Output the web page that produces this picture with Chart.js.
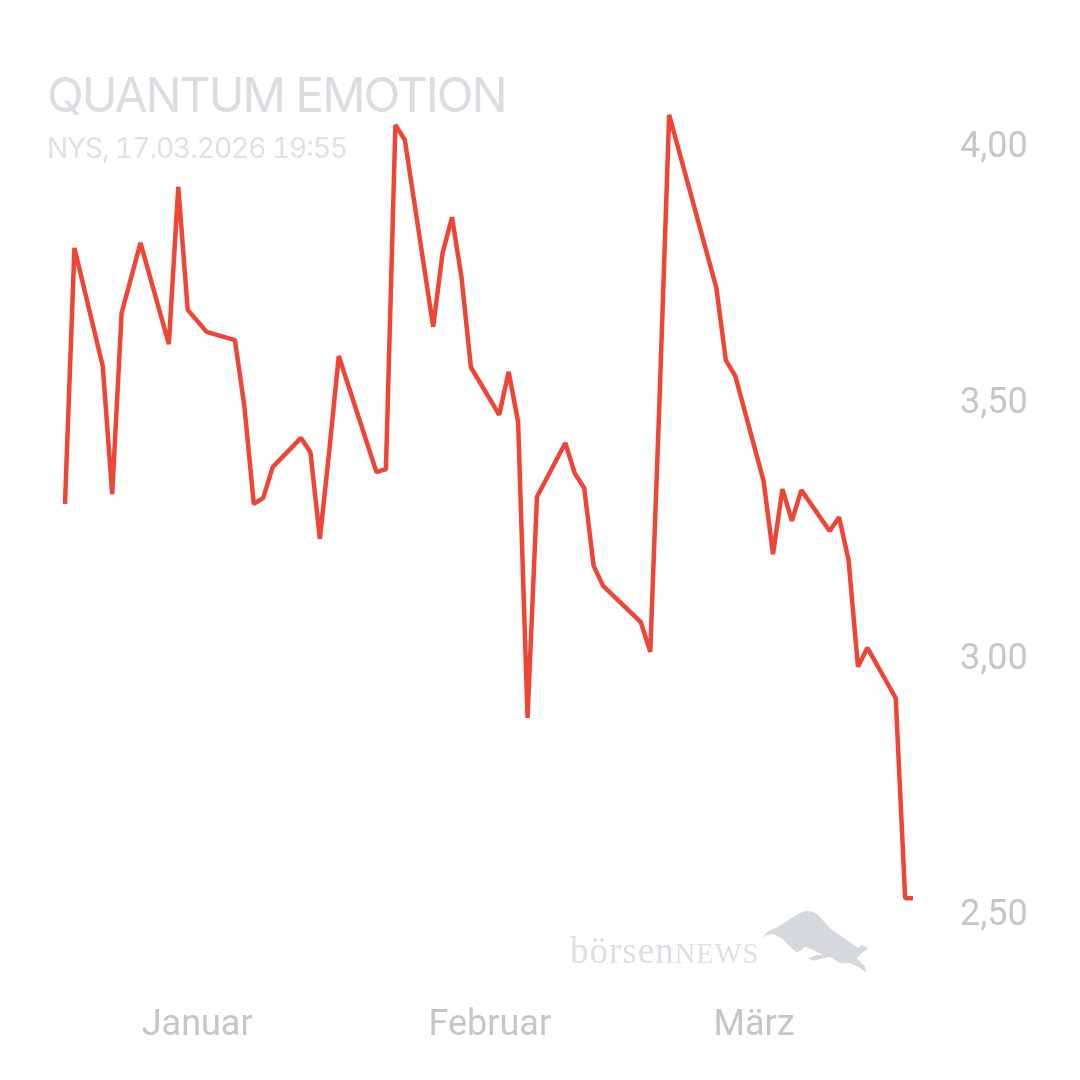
<!DOCTYPE html>
<html lang="de">
<head>
<meta charset="utf-8">
<title>Quantum Emotion</title>
<script src="https://cdn.jsdelivr.net/npm/chart.js@4"></script>
<style>
    html, body { margin: 0; padding: 0; background: #fff; }
    #wrap { position: relative; width: 1080px; height: 1080px; overflow: hidden; }
    #my-chart { position: absolute; left: 0; top: 0; }
    .label { position: absolute; white-space: nowrap; line-height: 1; }
    #name { left: 47px; top: 65px; font: 400 48px Inter, sans-serif; color: #dadde1; letter-spacing: -2px; }
    #stamp { left: 47px; top: 131px; font: 400 28px Inter, sans-serif; color: #dfe2e5; letter-spacing: -1px; font-feature-settings: 'calt', 'case', 'tnum'; }
    #brand { left: 570px; top: 929px; font: 400 37px "Liberation Serif", serif; color: #dcdfe3; letter-spacing: 1px; }
    #brand span { font-size: 28.5px; }
    #bull { position: absolute; left: 0; top: 0; }
</style>
</head>
<body>
<div id="wrap">
    <canvas id="my-chart" width="1080" height="1080"></canvas>
    <div class="label" id="name">QUANTUM EMOTION</div>
    <div class="label" id="stamp">NYS, 17.03.2026 19:55</div>
    <div class="label" id="brand">börsen<span>NEWS</span></div>
    <svg id="bull" width="1080" height="1080">
        <path fill="#d5d9dc" d="M761.7 938.3 L768.3 931 L778.3 926.7 L793.3 916.7 Q800 912 806.7 910.7 Q813 911 818.3 915 L830 928.3 L846.7 940 L858.3 948.3 L861.7 945 L868.3 948.3 L861.7 953.3 L856.7 958.3 L865 966.7 L866 972.3 L858.3 966.7 L850 963.3 L840 963.3 L830 956.7 L823.3 958.3 L813.3 960.7 L808.3 958.3 L816.7 955 L823.3 955 L813.3 950 L805 946.7 L801.7 950 L796.7 952.3 L790 946.7 L781.7 938.3 L773.3 934.3 L766.7 935 Z"/>
    </svg>
</div>
<script>
// Kurse (Tagesschluss)
const dates = [
    '2025-12-18', '2025-12-19', '2025-12-22', '2025-12-23', '2025-12-24', '2025-12-26', '2025-12-29', '2025-12-30', '2025-12-31',
    '2026-01-02', '2026-01-05', '2026-01-06', '2026-01-07', '2026-01-08', '2026-01-09', '2026-01-12', '2026-01-13', '2026-01-14',
    '2026-01-15', '2026-01-16', '2026-01-20', '2026-01-21', '2026-01-22', '2026-01-23', '2026-01-26', '2026-01-27', '2026-01-28',
    '2026-01-29', '2026-01-30', '2026-02-02', '2026-02-03', '2026-02-04', '2026-02-05', '2026-02-06', '2026-02-09', '2026-02-10',
    '2026-02-11', '2026-02-12', '2026-02-13', '2026-02-17', '2026-02-18', '2026-02-19', '2026-02-20', '2026-02-25', '2026-02-26',
    '2026-02-27', '2026-03-02', '2026-03-03', '2026-03-04', '2026-03-05', '2026-03-06', '2026-03-09', '2026-03-10', '2026-03-11',
    '2026-03-12', '2026-03-13', '2026-03-16', '2026-03-17', '2026-03-17T19:55'
];
const prices = [
    3.297, 3.797, 3.566, 3.316, 3.67, 3.807, 3.609, 3.916, 3.676,
    3.633, 3.617, 3.488, 3.297, 3.309, 3.369, 3.426, 3.398, 3.229,
    3.402, 3.586, 3.359, 3.365, 4.037, 4.008, 3.643, 3.787, 3.857,
    3.74, 3.564, 3.471, 3.555, 3.457, 2.879, 3.311, 3.416, 3.357,
    3.328, 3.176, 3.137, 3.066, 3.008, 3.51, 4.057, 3.719, 3.578,
    3.547, 3.342, 3.199, 3.326, 3.264, 3.324, 3.244, 3.271, 3.188,
    2.979, 3.016, 2.918, 2.527, 2.527
];
const monthDates = ['2026-01-01', '2026-02-01', '2026-03-01'];
const monthLabels = ['Januar', 'Februar', 'März'];
const priceTicks = [4, 3.5, 3, 2.5];

const DAY = 86400000;
const toTime = d => Date.parse(d.length > 10 ? d + 'Z' : d + 'T00:00Z');
const start = toTime(dates[0]);
const monthTimes = monthDates.map(toTime);

new Chart(document.getElementById('my-chart').getContext('2d'), {
    type: 'line',
    data: {
        datasets: [{
            data: dates.map((d, i) => ({ x: toTime(d), y: prices[i] })),
            borderColor: '#ee4537',
            borderWidth: 4.5,
            borderJoinStyle: 'bevel',
            borderCapStyle: 'butt',
            pointRadius: 0,
            tension: 0
        }]
    },
    options: {
        responsive: false,
        animation: false,
        events: [],
        layout: { padding: 0 },
        plugins: { legend: { display: false }, tooltip: { enabled: false } },
        scales: {
            x: {
                type: 'linear',
                // 9,44 px pro Tag, erster Punkt bei x = 65
                min: start - (65 / 9.44) * DAY,
                max: start + ((950 - 65) / 9.44) * DAY,
                grid: { display: false, drawTicks: false },
                border: { display: false },
                afterBuildTicks: scale => { scale.ticks = monthTimes.map(value => ({ value })); },
                afterFit: scale => {
                    scale.height = 90;
                    scale.paddingLeft = 0;
                    scale.paddingRight = 0;
                },
                ticks: {
                    autoSkip: false,
                    maxRotation: 0,
                    padding: 14,
                    color: '#c3c7cc',
                    font: { family: 'Roboto', size: 36 },
                    callback: value => monthLabels[monthTimes.indexOf(value)]
                }
            },
            y: {
                position: 'right',
                // 512 px pro 1,00, 4,00 liegt bei y = 144
                min: 4 - (990 - 144) / 512,
                max: 4 + 144 / 512,
                grid: { display: false, drawTicks: false },
                border: { display: false },
                afterBuildTicks: scale => { scale.ticks = priceTicks.map(value => ({ value })); },
                afterFit: scale => {
                    scale.width = 130;
                    scale.paddingTop = 0;
                    scale.paddingBottom = 0;
                },
                ticks: {
                    autoSkip: false,
                    padding: 10,
                    labelOffset: 4,
                    color: '#c3c7cc',
                    font: { family: 'Roboto', size: 36 },
                    callback: value => value.toFixed(2).replace('.', ',')
                }
            }
        }
    }
});
</script>
</body>
</html>
